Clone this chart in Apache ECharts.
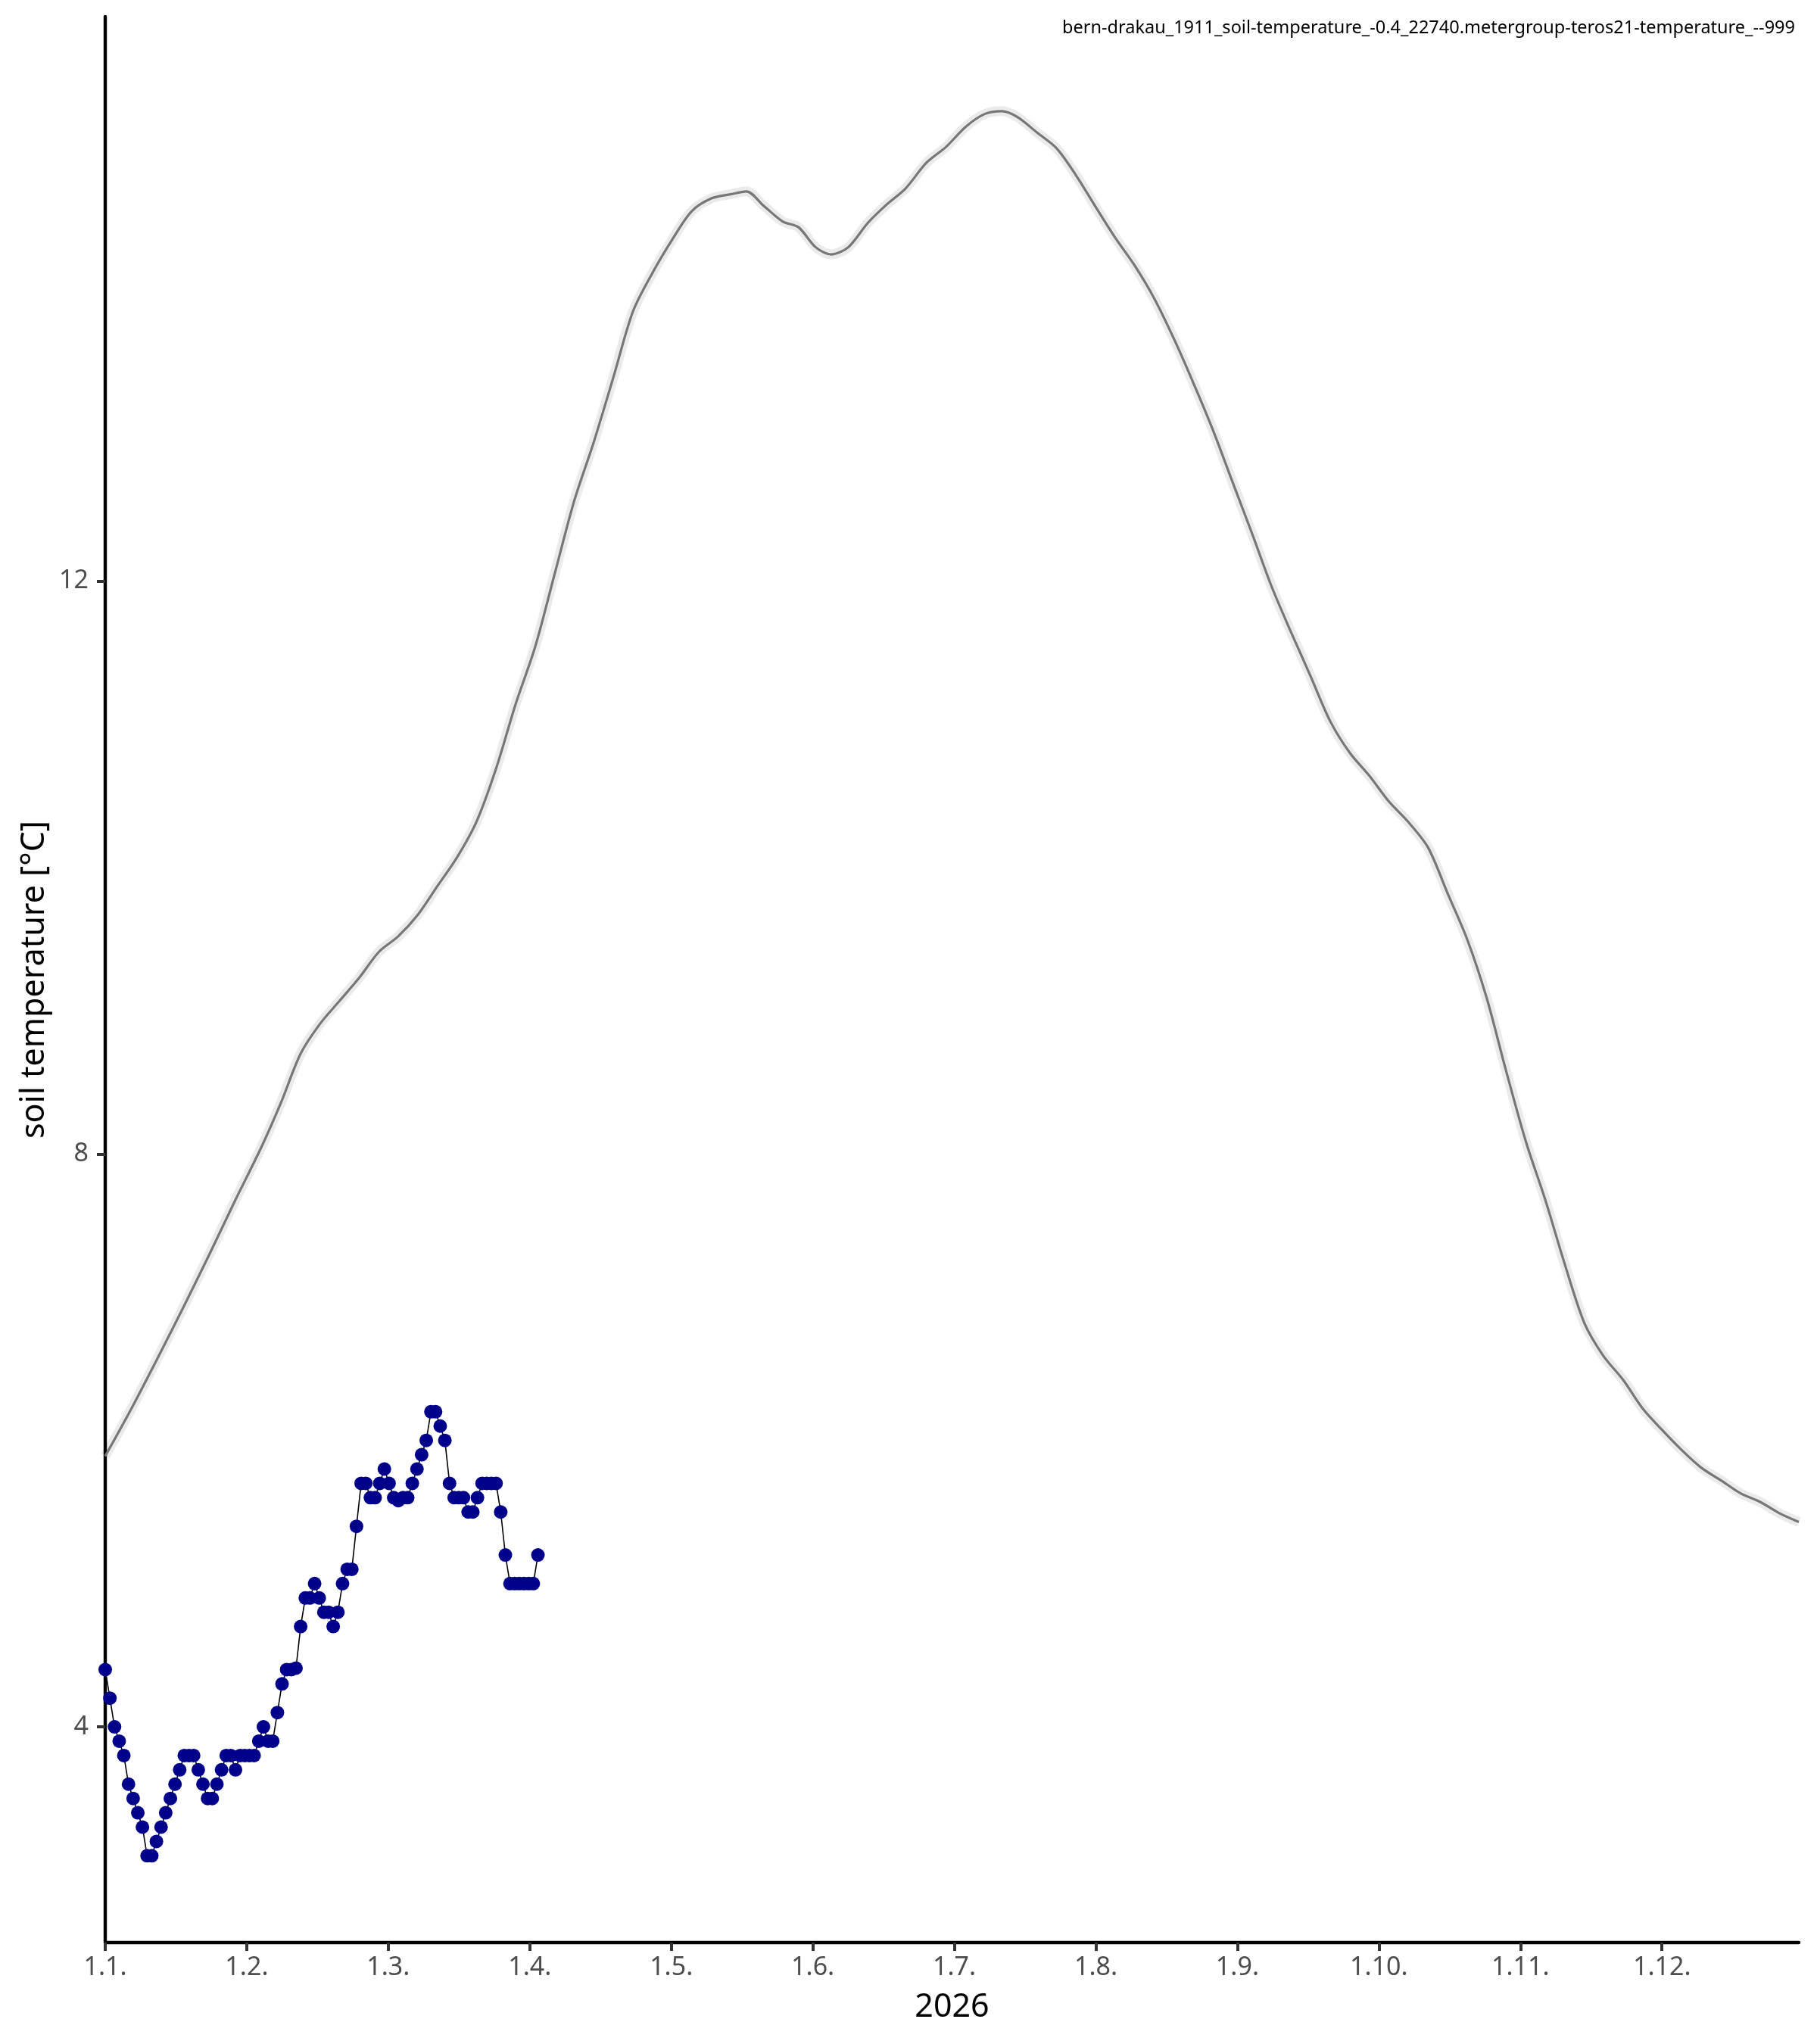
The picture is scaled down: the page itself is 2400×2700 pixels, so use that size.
<!DOCTYPE html>
<html>
<head>
<meta charset="utf-8">
<script src="https://cdn.jsdelivr.net/npm/echarts@6/dist/echarts.min.js"></script>
<style>
  html, body { margin: 0; padding: 0; background: #fff; }
  #chart { width: 2400px; height: 2700px; }
</style>
</head>
<body>
<div id="chart"></div>
<script>
const titleText = 'bern-drakau_1911_soil-temperature_-0.4_22740.metergroup-teros21-temperature_--999'
const monthLabels = ['1.1.', '1.2.', '1.3.', '1.4.', '1.5.', '1.6.', '1.7.', '1.8.', '1.9.', '1.10.', '1.11.', '1.12.']
const yTicks = [4, 8, 12]

// long-term smoothed curve (day of year, °C)
const lineDays = [0, 5.6, 11.2, 16.8, 22.4, 28, 33.6, 37.8, 42, 46.2, 50.4, 54.6, 58.8, 63, 67.2, 71.4, 75.6, 79.8, 84, 88.2,
  92.4, 96.6, 100.8, 105, 109.2, 113.4, 117.6, 121.8, 126, 130.2, 134.4, 137.8, 141.5, 145.6, 149, 152.7, 156, 159.7,
  163.9, 168, 172, 176.5, 180.7, 184.9, 189, 192.7, 196, 200.3, 204.5, 208.7, 212.9, 217, 221.3, 225.5, 229.7, 233.9,
  238, 242.3, 246.5, 250.7, 254.9, 259, 263.3, 267.5, 271.7, 275.9, 280, 284.3, 288.5, 292.7, 296.9, 301, 305.3, 309.5,
  313.7, 317.9, 322, 326.3, 330.5, 334.7, 338.9, 343, 347.3, 351.5, 355.7, 359.9, 364]
const lineTemps = [5.89, 6.22, 6.57, 6.93, 7.30, 7.68, 8.05, 8.36, 8.70, 8.91, 9.07, 9.23, 9.41, 9.52, 9.67, 9.87, 10.07, 10.32, 10.69, 11.14,
  11.54, 12.05, 12.56, 12.97, 13.42, 13.88, 14.15, 14.38, 14.58, 14.67, 14.70, 14.72, 14.62, 14.51, 14.47, 14.33, 14.28, 14.33,
  14.50, 14.63, 14.74, 14.92, 15.03, 15.17, 15.26, 15.28, 15.24, 15.13, 15.02, 14.83, 14.61, 14.40, 14.20, 13.97, 13.69, 13.38,
  13.06, 12.69, 12.33, 11.96, 11.64, 11.34, 11.02, 10.80, 10.64, 10.46, 10.32, 10.14, 9.82, 9.50, 9.09, 8.59, 8.09, 7.68,
  7.23, 6.82, 6.59, 6.42, 6.22, 6.07, 5.93, 5.81, 5.72, 5.63, 5.57, 5.49, 5.43]

// current year daily measurements, starting 1.1.
const dailyTemps = [4.4, 4.2, 4.0, 3.9, 3.8, 3.6, 3.5, 3.4, 3.3, 3.1, 3.1, 3.2, 3.3, 3.4, 3.5, 3.6, 3.7, 3.8, 3.8, 3.8,
  3.7, 3.6, 3.5, 3.5, 3.6, 3.7, 3.8, 3.8, 3.7, 3.8, 3.8, 3.8, 3.8, 3.9, 4.0, 3.9, 3.9, 4.1, 4.3, 4.4,
  4.4, 4.41, 4.7, 4.9, 4.9, 5.0, 4.9, 4.8, 4.8, 4.7, 4.8, 5.0, 5.1, 5.1, 5.4, 5.7, 5.7, 5.6, 5.6, 5.7,
  5.8, 5.7, 5.6, 5.58, 5.6, 5.6, 5.7, 5.8, 5.9, 6.0, 6.2, 6.2, 6.1, 6.0, 5.7, 5.6, 5.6, 5.6, 5.5, 5.5,
  5.6, 5.7, 5.7, 5.7, 5.7, 5.5, 5.2, 5.0, 5.0, 5.0, 5.0, 5.0, 5.0, 5.2]

const monthLen = 365 / 12
const font = 'Noto Sans'

const chart = echarts.init(document.getElementById('chart'))
const option = {
  animation: false,
  backgroundColor: '#fff',
  title: {
    text: titleText,
    right: 24,
    top: 20,
    textStyle: { fontFamily: font, fontSize: 23.5, fontWeight: 'normal', color: '#000' }
  },
  grid: { left: 139, right: 24, top: 22, bottom: 134 },
  xAxis: {
    type: 'value',
    min: 0,
    max: 364,
    name: '2026',
    nameLocation: 'middle',
    nameGap: 64,
    nameTextStyle: { fontFamily: font, fontSize: 43, color: '#000' },
    axisLine: { show: true, lineStyle: { color: '#000', width: 4.4 } },
    axisTick: {
      show: true,
      length: 11,
      lineStyle: { color: '#333', width: 4 },
      customValues: monthLabels.map((l, i) => i * monthLen)
    },
    axisLabel: {
      fontFamily: font,
      fontSize: 34,
      color: '#4D4D4D',
      margin: 16,
      customValues: monthLabels.map((l, i) => i * monthLen),
      formatter: v => monthLabels[Math.round(v / monthLen)]
    },
    splitLine: { show: false }
  },
  yAxis: {
    type: 'value',
    min: 2.494,
    max: 15.94,
    name: 'soil temperature [°C]',
    nameLocation: 'middle',
    nameGap: 71,
    nameTextStyle: { fontFamily: font, fontSize: 43, color: '#000' },
    axisLine: { show: true, lineStyle: { color: '#000', width: 4.4 } },
    axisTick: { show: true, length: 11, lineStyle: { color: '#333', width: 4 }, customValues: yTicks },
    axisLabel: { fontFamily: font, fontSize: 34, color: '#4D4D4D', margin: 22, customValues: yTicks },
    splitLine: { show: false }
  },
  series: [
    {
      name: 'band',
      type: 'line',
      data: lineDays.map((d, i) => [d, lineTemps[i]]),
      smooth: 0.3,
      symbol: 'none',
      silent: true,
      lineStyle: { color: 'rgba(0,0,0,0.08)', width: 13 },
      z: 1
    },
    {
      name: 'climate',
      type: 'line',
      data: lineDays.map((d, i) => [d, lineTemps[i]]),
      smooth: 0.3,
      symbol: 'none',
      lineStyle: { color: '#777777', width: 3.2 },
      z: 2
    },
    {
      name: '2026',
      type: 'line',
      data: dailyTemps.map((t, i) => [i, t]),
      symbol: 'circle',
      symbolSize: 18,
      showAllSymbol: true,
      itemStyle: { color: '#00008B' },
      lineStyle: { color: '#000', width: 1.6 },
      z: 3
    }
  ]
}
chart.setOption(option)
</script>
</body>
</html>
